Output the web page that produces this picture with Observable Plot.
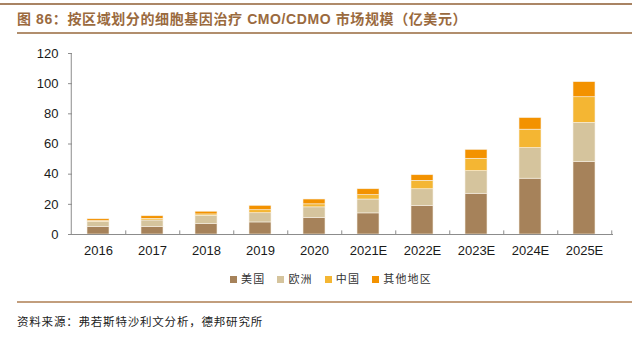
<!DOCTYPE html>
<html><head><meta charset="utf-8">
<script src="https://cdn.jsdelivr.net/npm/d3@7"></script>
<script src="https://cdn.jsdelivr.net/npm/@observablehq/plot@0.6"></script>
<style>
body{margin:0;background:#fff;}
#wrap{position:relative;width:632px;height:337px;overflow:hidden;background:#fff;font-family:"Liberation Sans","Noto Sans CJK SC",sans-serif;}
.topline{position:absolute;left:0;top:3px;width:632px;height:2px;background:linear-gradient(90deg,#a88363,#b08c6c 60%,#a88363);}
#title{position:absolute;left:17px;top:10px;font-size:14px;line-height:18px;font-weight:bold;color:#9a6a3e;white-space:nowrap;letter-spacing:0.6px;font-family:"Liberation Sans","Noto Sans CJK SC",sans-serif;}
.titleline{position:absolute;left:17px;top:32px;width:615px;height:2px;background:#b18e6d;}
#chart{position:absolute;left:0;top:0;}
#legend{position:absolute;left:0;top:270px;width:632px;text-align:center;font-size:11px;color:#333;font-family:"Noto Sans CJK SC",sans-serif;white-space:nowrap;padding-left:30px;box-sizing:border-box;letter-spacing:1.2px;}
#legend span.item{display:inline-block;margin:0 6px;}
#legend span.sw{display:inline-block;width:7px;height:7px;margin-right:4px;vertical-align:0px;}
.srcline{position:absolute;left:17px;top:301px;width:615px;height:2px;background:#c29e7d;}
#source{position:absolute;left:17px;top:313px;font-size:11.5px;color:#222;font-family:"Noto Sans CJK SC",sans-serif;white-space:nowrap;letter-spacing:0.8px;}
</style></head><body>
<div id="wrap">
  <div class="topline"></div>
  <div id="title">图 86：按区域划分的细胞基因治疗 CMO/CDMO 市场规模（亿美元）</div>
  <div class="titleline"></div>
  <div id="chart"></div>
  <div id="legend"></div>
  <div class="srcline"></div>
  <div id="source">资料来源：弗若斯特沙利文分析，德邦研究所</div>
</div>
<script>
const years = ["2016","2017","2018","2019","2020","2021E","2022E","2023E","2024E","2025E"];
const regions = ["美国","欧洲","中国","其他地区"];
const colors = ["#a6825a","#d5c49d","#f4b633","#f39200"];
const us     = [5, 5, 7, 8, 11, 14, 19, 27, 37, 48];
const europe = [3.4, 4.3, 5.4, 6.1, 7, 9.2, 11, 15, 20.3, 26];
const china  = [0.5, 1.1, 0.9, 2, 2, 2.9, 5.6, 8.2, 12.2, 17];
const other  = [1.2, 1.7, 1.8, 2.9, 3.2, 3.9, 3.7, 5.9, 7.7, 10];
const yTicks = [0, 20, 40, 60, 80, 100, 120];

const series = [us, europe, china, other];
const rows = [];
regions.forEach((r, k) => years.forEach((y, i) => rows.push({year: y, region: r, value: series[k][i]})));

const W = 632, H = 262, ML = 68, MR = 19, MT = 53, MB = 28;
const step = (W - ML - MR) / years.length;
const axisColor = "#8c8c8c";

const chart = Plot.plot({
  width: W, height: H,
  marginLeft: ML, marginRight: MR, marginTop: MT, marginBottom: MB,
  style: {fontFamily: "Liberation Sans, Arial, sans-serif", fontSize: "13px", color: "#1a1a1a", background: "transparent"},
  x: {domain: years, paddingInner: 0.6, paddingOuter: 0.3, label: null},
  y: {domain: [0, 120], label: null},
  color: {domain: regions, range: colors},
  marks: [
    Plot.barY(rows, Plot.stackY({x: "year", y: "value", fill: "region", z: "region", stroke: "#f7f0e4", strokeWidth: 0.6})),
    Plot.ruleY([0], {stroke: axisColor, strokeWidth: 1}),
    Plot.ruleX([years[0]], {x: d => d, dx: -step / 2, y1: 0, y2: 120, stroke: axisColor, strokeWidth: 1}),
    Plot.ruleX(years, {x: d => d, dx: step / 2, y1: 0, y2: 2.4, stroke: axisColor, strokeWidth: 1}),
    Plot.tickY(yTicks, {y: d => d, insetRight: (W - ML - MR) - 4, stroke: axisColor, strokeWidth: 1}),
    Plot.axisY(yTicks, {tickSize: 0, tickPadding: 10, fontSize: 13, label: null}),
    Plot.axisX({tickSize: 0, tickPadding: 11, fontSize: 13, label: null})
  ]
});
document.getElementById("chart").appendChild(chart);

const legend = document.getElementById("legend");
regions.forEach((r, k) => {
  const item = document.createElement("span");
  item.className = "item";
  const sw = document.createElement("span");
  sw.className = "sw";
  sw.style.background = colors[k];
  item.appendChild(sw);
  item.appendChild(document.createTextNode(r));
  legend.appendChild(item);
});
</script>
</body></html>
